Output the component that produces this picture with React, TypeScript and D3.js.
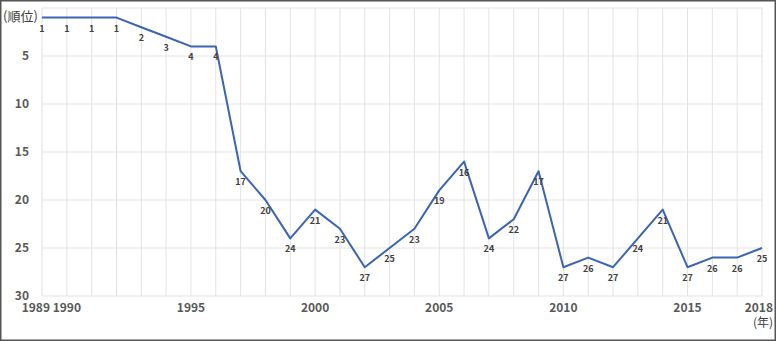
import React from "react";
import * as d3 from "d3";

const years: number[] = d3.range(1989, 2019);
const ranks: number[] = [1, 1, 1, 1, 2, 3, 4, 4, 17, 20, 24, 21, 23, 27, 25, 23, 19, 16, 24, 22, 17, 27, 26, 27, 24, 21, 27, 26, 26, 25];
const xTickYears: number[] = [1989, 1990, 1995, 2000, 2005, 2010, 2015, 2018];
const yTicks: number[] = [5, 10, 15, 20, 25, 30];
const yGrid: number[] = [0, 5, 10, 15, 20, 25, 30];
const yAxisTitle = "(順位)";
const xAxisTitle = "(年)";

const W = 776, H = 341;
const FONT = "'Noto Sans CJK JP', 'Noto Sans', sans-serif";

export default function App() {
  const x = d3.scaleLinear().domain([1989, 2018]).range([42, 762]);
  const y = d3.scaleLinear().domain([0, 30]).range([8, 296]);
  const line = d3.line<number>().x((_, i) => x(years[i])).y((d) => y(d));
  return (
    <svg width={W} height={H} style={{ position: "absolute", left: 0, top: 0 }} fontFamily={FONT}>
      <rect x={0} y={0} width={W} height={H} fill="#fff" />
      {years.map((yr) => (
        <line key={"v" + yr} x1={x(yr)} x2={x(yr)} y1={y(0)} y2={y(30)} stroke="#e3e3e3" strokeWidth={1} />
      ))}
      {yGrid.map((v) => (
        <line key={"h" + v} x1={x(1989)} x2={x(2018)} y1={y(v)} y2={y(v)} stroke="#e3e3e3" strokeWidth={1} />
      ))}
      <path d={line(ranks) || ""} fill="none" stroke="#3a64b4" strokeWidth={2} strokeLinejoin="round" />
      {ranks.map((r, i) => (
        <text key={"l" + i} x={x(years[i])} y={y(r) + 14} textAnchor="middle" fontSize={9} fontWeight="bold" fill="#404040">
          {r}
        </text>
      ))}
      {yTicks.map((v) => (
        <text key={"yt" + v} x={29} y={y(v) + 4} textAnchor="end" fontSize={12} fontWeight="bold" fill="#595959">
          {v}
        </text>
      ))}
      {xTickYears.map((yr) => {
        const first = yr === xTickYears[0];
        const last = yr === xTickYears[xTickYears.length - 1];
        return (
          <text
            key={"xt" + yr}
            x={first ? x(yr) + 8 : last ? 773 : x(yr)}
            y={312}
            textAnchor={first || last ? "end" : "middle"}
            fontSize={12}
            fontWeight="bold"
            fill="#595959"
          >
            {yr}
          </text>
        );
      })}
      <text x={3} y={21} fontSize={13} fill="#404040">{yAxisTitle}</text>
      <text x={773} y={327} textAnchor="end" fontSize={12} fill="#404040">{xAxisTitle}</text>
      <rect x={0.75} y={0.75} width={W - 1.5} height={H - 1.5} fill="none" stroke="#555" strokeWidth={1.5} />
    </svg>
  );
}
